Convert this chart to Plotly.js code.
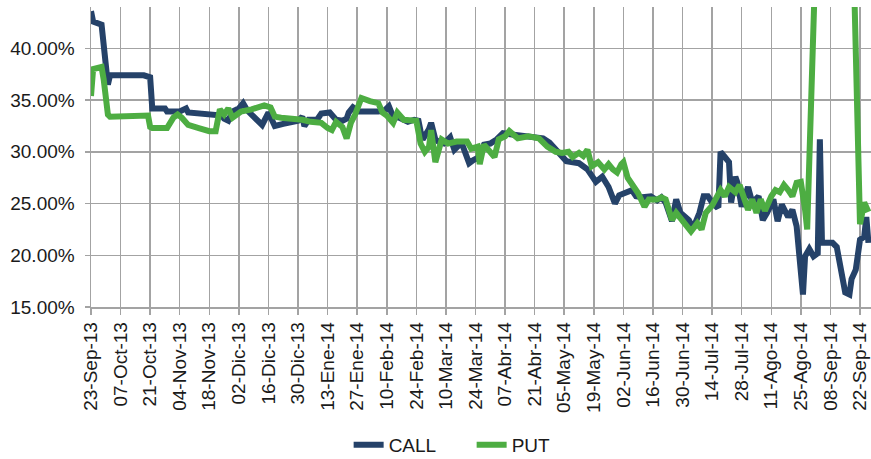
<!DOCTYPE html>
<html>
<head>
<meta charset="utf-8">
<script src="https://cdn.plot.ly/plotly-3.0.1.min.js"></script>
<style>html,body{margin:0;padding:0;background:#fff;}#chart{width:871px;height:459px;}</style>
</head>
<body>
<div id="chart"></div>
<script>
// CALL series
const callDates = ["2013-09-23","2013-09-24","2013-09-28","2013-10-01","2013-10-02","2013-10-18","2013-10-21","2013-10-22","2013-10-28","2013-10-29","2013-11-04","2013-11-07","2013-11-08","2013-11-18","2013-11-22","2013-11-24","2013-11-25","2013-11-27","2013-11-29","2013-12-02","2013-12-04","2013-12-06","2013-12-08","2013-12-11","2013-12-13","2013-12-16","2013-12-18","2013-12-19","2013-12-23","2013-12-27","2013-12-30","2014-01-01","2014-01-02","2014-01-04","2014-01-08","2014-01-10","2014-01-14","2014-01-17","2014-01-20","2014-01-22","2014-01-23","2014-01-25","2014-01-28","2014-02-06","2014-02-09","2014-02-11","2014-02-13","2014-02-16","2014-02-20","2014-02-23","2014-02-25","2014-02-26","2014-02-27","2014-03-02","2014-03-03","2014-03-05","2014-03-07","2014-03-09","2014-03-11","2014-03-12","2014-03-14","2014-03-16","2014-03-17","2014-03-19","2014-03-21","2014-03-23","2014-03-25","2014-03-28","2014-03-31","2014-04-03","2014-04-06","2014-04-13","2014-04-19","2014-04-25","2014-04-28","2014-05-03","2014-05-06","2014-05-12","2014-05-16","2014-05-20","2014-05-23","2014-05-26","2014-05-28","2014-05-29","2014-05-31","2014-06-04","2014-06-06","2014-06-08","2014-06-11","2014-06-15","2014-06-18","2014-06-20","2014-06-22","2014-06-25","2014-06-27","2014-06-29","2014-07-03","2014-07-05","2014-07-08","2014-07-10","2014-07-12","2014-07-14","2014-07-16","2014-07-17","2014-07-18","2014-07-20","2014-07-22","2014-07-23","2014-07-25","2014-07-26","2014-07-28","2014-07-31","2014-08-02","2014-08-05","2014-08-07","2014-08-09","2014-08-12","2014-08-14","2014-08-16","2014-08-19","2014-08-21","2014-08-23","2014-08-25","2014-08-26","2014-08-27","2014-08-29","2014-08-31","2014-09-02","2014-09-03","2014-09-04","2014-09-09","2014-09-11","2014-09-15","2014-09-17","2014-09-18","2014-09-20","2014-09-22","2014-09-24","2014-09-25","2014-09-26"];
const callValues = [43.6,42.6,42.3,36.5,37.4,37.4,37.2,34.2,34.2,33.9,33.9,34.2,33.8,33.7,33.6,33.5,33.2,33.0,33.9,34.2,34.7,34.0,33.6,33.0,32.6,33.8,33.0,32.5,32.7,32.8,33.0,33.4,32.5,33.1,33.1,33.7,33.8,33.1,33.0,33.2,33.8,34.3,33.9,33.9,34.0,34.4,33.4,33.3,32.9,33.1,33.0,32.0,31.2,32.2,32.8,31.2,30.9,30.8,31.2,31.4,30.2,30.6,31.1,30.0,28.9,29.2,29.4,30.7,30.8,31.2,31.8,31.6,31.5,31.3,30.9,29.9,29.1,28.9,28.3,27.1,27.6,26.6,25.6,25.0,25.8,26.1,26.3,25.7,25.6,25.7,25.3,25.6,25.1,23.3,25.4,24.1,23.4,22.6,24.1,25.7,25.7,25.1,24.7,24.8,30.0,29.5,29.0,25.1,27.6,27.0,24.7,26.6,25.1,25.7,23.4,24.1,25.4,23.3,24.9,23.7,24.4,22.8,18.9,16.2,19.9,20.6,19.9,20.2,31.2,21.2,21.2,20.8,16.4,16.2,17.7,18.6,21.5,21.8,23.7,21.2];

// PUT series
const putDates = ["2013-09-23","2013-09-24","2013-09-28","2013-09-29","2013-10-01","2013-10-02","2013-10-20","2013-10-21","2013-10-22","2013-10-29","2013-11-01","2013-11-03","2013-11-05","2013-11-08","2013-11-13","2013-11-18","2013-11-21","2013-11-23","2013-11-25","2013-11-27","2013-11-29","2013-12-03","2013-12-08","2013-12-14","2013-12-17","2013-12-19","2013-12-22","2013-12-28","2014-01-01","2014-01-05","2014-01-10","2014-01-13","2014-01-15","2014-01-17","2014-01-20","2014-01-22","2014-01-24","2014-01-26","2014-01-29","2014-02-02","2014-02-06","2014-02-08","2014-02-10","2014-02-13","2014-02-15","2014-02-18","2014-02-24","2014-02-26","2014-02-28","2014-03-02","2014-03-03","2014-03-05","2014-03-08","2014-03-11","2014-03-15","2014-03-20","2014-03-22","2014-03-25","2014-03-26","2014-03-28","2014-03-31","2014-04-02","2014-04-04","2014-04-07","2014-04-09","2014-04-13","2014-04-18","2014-04-23","2014-04-27","2014-05-01","2014-05-04","2014-05-07","2014-05-09","2014-05-12","2014-05-14","2014-05-16","2014-05-18","2014-05-21","2014-05-24","2014-05-26","2014-05-28","2014-05-30","2014-06-01","2014-06-02","2014-06-04","2014-06-07","2014-06-09","2014-06-12","2014-06-14","2014-06-18","2014-06-20","2014-06-22","2014-06-25","2014-06-27","2014-06-30","2014-07-04","2014-07-07","2014-07-09","2014-07-11","2014-07-14","2014-07-18","2014-07-20","2014-07-22","2014-07-25","2014-07-27","2014-07-29","2014-07-31","2014-08-02","2014-08-04","2014-08-06","2014-08-08","2014-08-11","2014-08-13","2014-08-15","2014-08-17","2014-08-19","2014-08-21","2014-08-23","2014-08-25","2014-08-27","2014-08-28","2014-09-11","2014-09-22","2014-09-24","2014-09-26"];
const putValues = [35.4,38.0,38.2,37.0,33.6,33.4,33.5,32.4,32.3,32.3,33.3,33.6,33.3,32.6,32.3,32.0,32.0,34.1,33.6,34.2,33.3,33.9,34.1,34.5,34.3,33.4,33.3,33.2,33.1,32.9,32.8,32.3,32.1,32.9,32.4,31.3,32.8,33.6,35.2,34.9,34.7,33.8,33.5,32.8,33.8,33.1,33.0,30.8,30.0,30.5,32.1,29.0,31.2,30.8,31.0,31.0,30.3,30.5,28.8,30.7,29.9,29.5,31.2,31.5,32.0,31.3,31.5,31.3,30.5,30.0,29.9,30.0,29.5,29.9,29.6,30.2,28.6,29.0,28.3,28.8,28.3,28.0,28.8,29.0,27.5,26.6,26.0,24.7,25.4,25.4,25.6,25.4,23.4,24.1,23.4,22.3,23.1,22.5,24.1,24.8,26.3,25.7,26.6,26.1,26.8,25.7,24.4,25.4,24.1,25.4,24.3,25.7,26.3,26.1,26.8,26.3,25.7,27.0,27.1,24.4,22.5,115.0,23.0,25.1,24.2];

// Axis ticks
const tickDates = ["2013-09-23","2013-10-07","2013-10-21","2013-11-04","2013-11-18","2013-12-02","2013-12-16","2013-12-30","2014-01-13","2014-01-27","2014-02-10","2014-02-24","2014-03-10","2014-03-24","2014-04-07","2014-04-21","2014-05-05","2014-05-19","2014-06-02","2014-06-16","2014-06-30","2014-07-14","2014-07-28","2014-08-11","2014-08-25","2014-09-08","2014-09-22"];
const tickLabels = ["23-Sep-13","07-Oct-13","21-Oct-13","04-Nov-13","18-Nov-13","02-Dic-13","16-Dic-13","30-Dic-13","13-Ene-14","27-Ene-14","10-Feb-14","24-Feb-14","10-Mar-14","24-Mar-14","07-Abr-14","21-Abr-14","05-May-14","19-May-14","02-Jun-14","16-Jun-14","30-Jun-14","14-Jul-14","28-Jul-14","11-Ago-14","25-Ago-14","08-Sep-14","22-Sep-14"];
const yTicks = [15,20,25,30,35,40];
const yLabels = ["15.00%","20.00%","25.00%","30.00%","35.00%","40.00%"];

const FONT = '"Liberation Sans", Arial, sans-serif';
const GRID = '#a3a3a3';
const FS = 19;

const traces = [
  {x: callDates, y: callValues, name: 'CALL', type: 'scatter', mode: 'lines',
   line: {color: '#254269', width: 6}},
  {x: putDates, y: putValues, name: 'PUT', type: 'scatter', mode: 'lines',
   line: {color: '#4DAD42', width: 6}}
];

const layout = {
  width: 871, height: 459,
  paper_bgcolor: '#fff', plot_bgcolor: '#fff',
  margin: {l: 91, r: 0, t: 7, b: 152, autoexpand: false},
  font: {family: FONT, size: FS, color: '#1a1a1a'},
  showlegend: true,
  legend: {orientation: 'h', x: 0.488, xanchor: 'center', y: -0.46, yanchor: 'middle',
           font: {family: FONT, size: FS, color: '#1a1a1a'}, entrywidth: 78, entrywidthmode: 'pixels',
           traceorder: 'normal'},
  xaxis: {type: 'date', range: ['2013-09-23', '2014-09-27 05:00'],
          tickmode: 'array', tickvals: tickDates, ticktext: tickLabels, tickangle: -90,
          ticks: 'outside', ticklen: 6, tickcolor: GRID, tickwidth: 1.5,
          showgrid: true, gridcolor: GRID, gridwidth: 1.5,
          showline: true, linecolor: GRID, linewidth: 1.5, zeroline: false,
          tickfont: {family: FONT, size: FS, color: '#1a1a1a'}, fixedrange: true},
  yaxis: {range: [15, 44], tickmode: 'array', tickvals: yTicks, ticktext: yLabels,
          ticks: 'outside', ticklen: 5, tickcolor: GRID, tickwidth: 1.5,
          showgrid: true, gridcolor: GRID, gridwidth: 1.5,
          showline: true, linecolor: GRID, linewidth: 1.5, zeroline: false,
          ticklabelstandoff: 6,
          tickfont: {family: FONT, size: FS, color: '#1a1a1a'}, fixedrange: true}
};

Plotly.newPlot('chart', traces, layout, {displayModeBar: false, staticPlot: true});
</script>
</body>
</html>
